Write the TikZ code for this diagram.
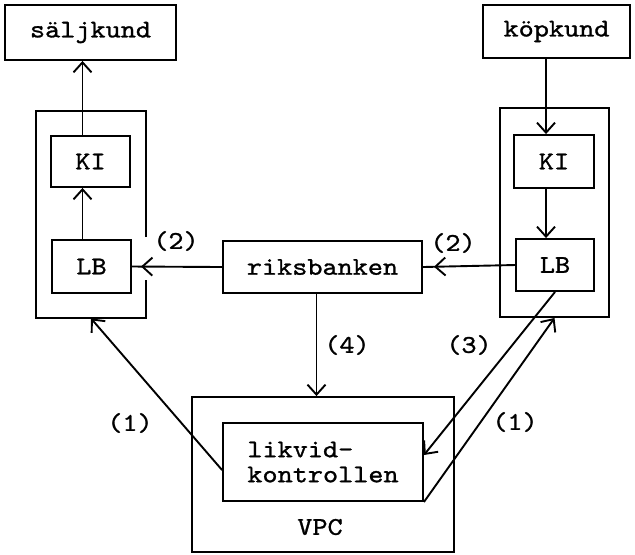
\documentclass[tikz,border=0pt]{standalone}
\usepackage{fontspec}
\setmonofont[FakeStretch=1.13,FakeBold=1.1]{lmmono10-regular.otf}
\usetikzlibrary{arrows.meta,decorations.markings}
\begin{document}
\begin{tikzpicture}[x=0.5pt,y=-0.5pt,
  every node/.style={font=\ttfamily\fontsize{12.75}{12.5}\selectfont},
  box/.style={draw, line width=0.95pt, inner sep=0pt},
  conn/.style={line width=0.95pt},
  barb/.tip={Straight Barb[length=5pt,width=9pt]},
  arr/.style={conn, -barb},
  tipat/.style={conn, postaction={decorate},
    decoration={markings, mark=at position -#1 with {\arrow{barb}}}},
  lbl/.style={inner sep=0pt},
]
\useasboundingbox (0,0) rectangle (635,554);

% customers
\node[box, minimum width=85.5pt, minimum height=27.5pt] (sk) at (90.5,32.5) {säljkund};
\node[box, minimum width=73.5pt, minimum height=26.5pt] (kk) at (556.5,31.5) {köpkund};

% bank groups
\node[minimum width=55pt, minimum height=103.5pt, inner sep=0pt] (outL) at (91,214.5) {};
\draw[conn] (outL.east |- 0,237) -- (outL.north east) -- (outL.north west)
  -- (outL.south west) -- (outL.south east) -- (outL.east |- 0,280);
\node[box, minimum width=54.5pt, minimum height=104.5pt] (outR) at (554.5,212.5) {};

\node[box, minimum width=39.5pt, minimum height=25.5pt] (kiL) at (90.5,161.5) {KI};
\node[box, minimum width=39.5pt, minimum height=26.5pt] (lbL) at (91.5,266.5) {LB};
\node[box, minimum width=40pt, minimum height=26.5pt] (kiR) at (554,161.5) {KI};
\node[box, minimum width=39pt, minimum height=26pt] (lbR) at (555,265) {LB};

% central bank and VPC
\node[box, minimum width=99.5pt, minimum height=26pt] (rb) at (322.5,267) {riksbanken};
\node[box, minimum width=131pt, minimum height=77.5pt] (vpc) at (323,474.5) {};
\node[box, minimum width=100pt, minimum height=39pt, align=left] (lk) at (323,462) {likvid-\\kontrollen};
\node[lbl] (vpct) at (320,527) {VPC};

% flows
\draw[arr] ([xshift=-4pt]kiL.north) -- ([xshift=-4pt]kiL.north |- sk.south);
\draw[arr] ([xshift=-4pt]kiL.south |- lbL.north) -- ([xshift=-4pt]kiL.south);
\draw[arr] ([xshift=-4pt]kiR.north |- kk.south) -- ([xshift=-4pt]kiR.north);
\draw[arr] ([xshift=-4pt]kiR.south) -- ([xshift=-4pt]kiR.south |- lbR.north);
\draw[tipat=4.5pt] (rb.west) -- (lbL.east);
\draw[tipat=5.5pt] (lbR.west) -- (rb.east);
\draw[arr] ([xshift=-3pt]rb.south) -- ([xshift=-3pt]rb.south |- vpc.north);
\draw[arr] (lbR.south) -- ([yshift=3.5pt]lk.east);
\draw[arr] (lk.south east) -- (outR.south);
\draw[arr] ([yshift=-4pt]lk.west) -- (outL.south);

% step labels
\node[lbl] at (176,241) {(2)};
\node[lbl] at (453,243) {(2)};
\node[lbl] at (347,345) {(4)};
\node[lbl] at (469,345) {(3)};
\node[lbl] at (130,423) {(1)};
\node[lbl] at (515,422) {(1)};
\end{tikzpicture}
\end{document}
